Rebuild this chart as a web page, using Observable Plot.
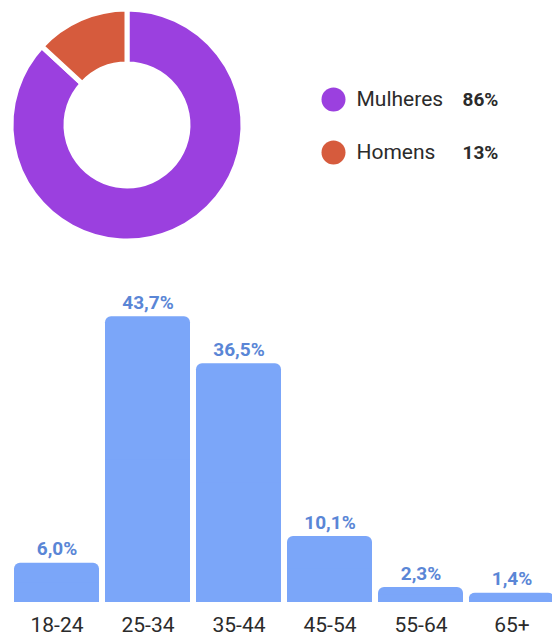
<!DOCTYPE html>
<html>
<head>
<meta charset="utf-8">
<script src="https://cdn.jsdelivr.net/npm/d3@7"></script>
<script src="https://cdn.jsdelivr.net/npm/@observablehq/plot@0.6"></script>
<style>
  html, body { margin: 0; padding: 0; background: #fff; overflow: hidden; width: 552px; height: 638px; }
  #topChart, #bottomChart { display: block; line-height: 0; }
  svg { display: block; }
</style>
</head>
<body>
<div id="topChart"></div>
<div id="bottomChart"></div>
<script>
// ---- data ----
const genderLabels = ["Mulheres", "Homens"];
const genderValues = [86, 13];
const genderColors = ["#9b40df", "#d65b3d"];

const ageGroups = ["18-24", "25-34", "35-44", "45-54", "55-64", "65+"];
const ageValues = [6.0, 43.7, 36.5, 10.1, 2.3, 1.4];

const fmt = v => v.toFixed(1).replace(".", ",") + "%";

const genderData = genderLabels.map((g, i) => ({ label: g, value: genderValues[i], color: genderColors[i] }));
const ageData = ageGroups.map((a, i) => ({ age: a, value: ageValues[i] }));

// ---- top: donut + legend ----
function donut() {
  const g = d3.create("svg:g").attr("transform", "translate(127,125)");
  const arcs = d3.pie().sort(null).value(d => d.value)(genderData);
  const arc = d3.arc().innerRadius(61).outerRadius(116);
  g.selectAll("path").data(arcs).join("path")
    .attr("d", arc)
    .attr("fill", d => d.data.color)
    .attr("stroke", "#fff")
    .attr("stroke-width", 5)
    .attr("stroke-linejoin", "miter");
  return g.node();
}

const topPlot = Plot.plot({
  width: 552,
  height: 258,
  margin: 0,
  style: { fontFamily: "Roboto, sans-serif", background: "#fff" },
  x: { domain: [0, 552], range: [0, 552], axis: null },
  y: { type: "point", domain: genderLabels, range: [99, 152], padding: 0, axis: null },
  marks: [
    donut,
    Plot.dot(genderData, { x: () => 333, y: "label", r: 12, fill: "color", stroke: null }),
    Plot.text(genderData, { x: () => 356, y: "label", text: "label", textAnchor: "start", fontSize: 21, fill: "#2b2b2b" }),
    Plot.text(genderData, { x: () => 462, y: "label", text: d => d.value + "%", textAnchor: "start", fontSize: 19, fontWeight: "bold", fill: "#2b2b2b" })
  ]
});
document.getElementById("topChart").appendChild(topPlot);

// ---- bottom: age bars ----
const bottomPlot = Plot.plot({
  width: 552,
  height: 380,
  marginTop: 17,
  marginBottom: 36,
  marginLeft: 0,
  marginRight: 0,
  style: { fontFamily: "Roboto, sans-serif", fontSize: "21px", color: "#2b2b2b", background: "#fff", overflow: "visible" },
  x: { domain: ageGroups, range: [6, 561], padding: 0.07, label: null, tickSize: 0, tickPadding: 15 },
  y: { domain: [0, 50], axis: null },
  marks: [
    Plot.barY(ageData, { x: "age", y: "value", fill: "#7ba6f9", rx: 6 }),
    Plot.barY(ageData, { x: "age", y1: () => 0, y2: d => d.value / 2, fill: "#7ba6f9" }),
    Plot.text(ageData, { x: "age", y: "value", text: d => fmt(d.value), dy: -14, fontSize: 19, fontWeight: "bold", fill: "#5a86d6" })
  ]
});
document.getElementById("bottomChart").appendChild(bottomPlot);
</script>
</body>
</html>
